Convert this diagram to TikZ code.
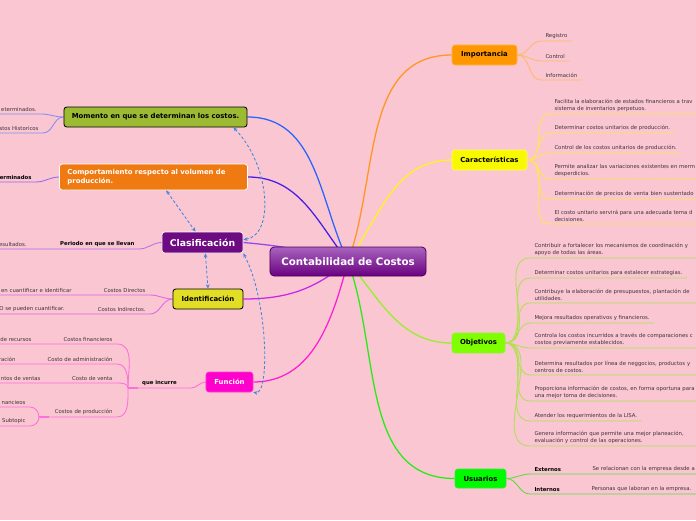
\documentclass[tikz,border=0pt]{standalone}
\usepackage{fontspec}
\setmainfont{DejaVu Sans}
\usetikzlibrary{arrows.meta, backgrounds}
\definecolor{bgpink}{RGB}{249,198,210}
\definecolor{leafgray}{RGB}{62,50,56}
\definecolor{relblue}{RGB}{66,133,222}
\definecolor{ccTop}{RGB}{168,100,190}
\definecolor{ccBot}{RGB}{106,0,128}
\definecolor{ccLine}{RGB}{80,0,95}
% branch colours
\definecolor{brMom}{RGB}{40,100,255}
\definecolor{brComp}{RGB}{70,30,230}
\definecolor{brClas}{RGB}{150,70,240}
\definecolor{brIden}{RGB}{200,40,230}
\definecolor{brFunc}{RGB}{255,30,210}
\definecolor{brImp}{RGB}{255,150,30}
\definecolor{brCar}{RGB}{255,245,30}
\definecolor{brObj}{RGB}{150,240,40}
\definecolor{brUsr}{RGB}{40,235,20}
% subtopic line colours
\definecolor{lfM}{RGB}{130,140,240}
\definecolor{lfC}{RGB}{150,100,240}
\definecolor{lfK}{RGB}{180,110,240}
\definecolor{lfI}{RGB}{225,100,230}
\definecolor{lfF}{RGB}{255,110,220}
\definecolor{lfO}{RGB}{255,185,100}
\definecolor{lfY}{RGB}{255,230,80}
\definecolor{lfG}{RGB}{175,225,80}
\definecolor{lfU}{RGB}{90,220,60}

\begin{document}
\begin{tikzpicture}[
  x=0.025cm, y=-0.025cm,
  topic/.style={rounded corners=2pt, font=\fontsize{4.9}{5.9}\selectfont\bfseries, inner sep=0pt},
  leaf/.style={font=\fontsize{3.8}{4.8}\selectfont, text=leafgray, inner xsep=3pt, inner ysep=1.5pt, align=left},
  rleaf/.style={leaf, anchor=south west},
  lleaf/.style={leaf, anchor=south east},
  branch/.style={line width=0.9pt},
  twig/.style={line width=0.6pt},
  rel/.style={{Stealth[length=3pt,width=2.6pt]}-{Stealth[length=3pt,width=2.6pt]}, relblue, line width=0.6pt, dash pattern=on 2pt off 1.5pt}
]
\useasboundingbox (0,0) rectangle (696,520);

% Central topic
\node[topic, font=\fontsize{7.3}{8.5}\selectfont\bfseries, text=white, top color=ccTop, bottom color=ccBot,
  draw=ccLine, line width=0.6pt, rounded corners=3pt, minimum width=3.9cm, minimum height=0.725cm] (cc) at (348,261.5) {Contabilidad de Costos};

% Topics, right side
\node[topic, fill={rgb,255:red,255;green,152;blue,0}, draw={rgb,255:red,255;green,185;blue,70}, minimum width=1.625cm, minimum height=0.5cm] (imp) at (484.5,55) {Importancia};
\node[topic, fill={rgb,255:red,248;green,248;blue,0}, draw={rgb,255:red,255;green,255;blue,90}, minimum width=1.875cm, minimum height=0.5cm] (car) at (489.5,160) {Características};
\node[topic, fill={rgb,255:red,128;green,255;blue,0}, draw={rgb,255:red,150;green,240;blue,60}, minimum width=1.325cm, minimum height=0.5cm] (obj) at (478.5,343) {Objetivos};
\node[topic, fill={rgb,255:red,0;green,250;blue,0}, draw={rgb,255:red,60;green,230;blue,60}, minimum width=1.275cm, minimum height=0.475cm] (usr) at (480.5,478.5) {Usuarios};

% Topics, left side
\node[topic, fill={rgb,255:red,156;green,187;blue,51}, draw=black, line width=0.6pt, minimum width=4.575cm, minimum height=0.5cm] (mom) at (155.5,117) {Momento en que se determinan los costos.};
\node[topic, fill={rgb,255:red,240;green,122;blue,18}, draw=white, line width=0.5pt, text=white, align=left,
  text width=4.3cm, inner xsep=0.2cm, minimum height=0.65cm] (comp) at (153.5,177) {Comportamiento respecto al volumen de\\producción.};
\node[topic, font=\fontsize{6.6}{7.6}\selectfont\bfseries, fill={rgb,255:red,110;green,10;blue,130}, draw=white, line width=0.5pt,
  text=white, minimum width=2.025cm, minimum height=0.525cm] (clas) at (202.5,242.5) {Clasificación};
\node[topic, fill={rgb,255:red,226;green,222;blue,38}, draw=black, line width=0.6pt, minimum width=1.75cm, minimum height=0.5cm] (iden) at (208,299) {Identificación};
\node[topic, fill={rgb,255:red,255;green,0;blue,204}, draw={rgb,255:red,255;green,60;blue,215}, text=white, minimum width=1.175cm, minimum height=0.5cm] (func) at (229.5,382) {Función};

% Subtopics of Importancia
\node[rleaf] (imp1) at (541,41) {Registro};
\node[rleaf] (imp2) at (541,61) {Control};
\node[rleaf] (imp3) at (541,80) {Información};

% Subtopics of Caracteristicas
\node[rleaf, text width=4cm] (car1) at (550,114) {Facilita la elaboración de estados financieros a trav\\sistema de inventarios perpetuos.};
\node[rleaf] (car2) at (550,133) {Determinar costos unitarios de producción.};
\node[rleaf] (car3) at (550,153) {Control de los costos unitarios de producción.};
\node[rleaf, text width=4cm] (car4) at (550,179) {Permite analizar las variaciones existentes en merm\\desperdicios.};
\node[rleaf, text width=4cm] (car5) at (550,199) {Determinación de precios de venta bien sustentado};
\node[rleaf, text width=4cm] (car6) at (550,224) {El costo unitario servirá para una adecuada tema d\\decisiones.};

% Subtopics of Objetivos
\node[rleaf, text width=4.5cm] (obj1) at (530,258) {Contribuir a fortalecer los mecanismos de coordinación y\\apoyo de todas las áreas.};
\node[rleaf] (obj2) at (530,278) {Determinar costos unitarios para estalecer estrategias.};
\node[rleaf, text width=4.5cm] (obj3) at (530,303) {Contribuye la elaboración de presupuestos, plantación de\\utilidades.};
\node[rleaf] (obj4) at (530,323) {Mejora resultados operativos y financieros.};
\node[rleaf, text width=4.5cm] (obj5) at (530,348) {Controla los costos incurridos a través de comparaciones c\\costos previamente establecidos.};
\node[rleaf, text width=4.5cm] (obj6) at (530,375) {Determina resultados por línea de neggocios, productos y\\centros de costos.};
\node[rleaf, text width=4.5cm] (obj7) at (530,401) {Proporciona información de costos, en forma oportuna para\\una mejor toma de decisiones.};
\node[rleaf] (obj8) at (530,421) {Atender los requerimientos de la LISA.};
\node[rleaf, text width=4.5cm] (obj9) at (530,446) {Genera información que permite una mejor planeación,\\evaluación y control de las operaciones.};

% Subtopics of Usuarios
\node[rleaf, font=\fontsize{3.8}{4.8}\selectfont\bfseries, text=black] (usr1) at (530,474) {Externos};
\node[rleaf, text width=3cm] (usr1a) at (588,474) {Se relacionan con la empresa desde a};
\node[rleaf, font=\fontsize{3.8}{4.8}\selectfont\bfseries, text=black] (usr2) at (530,494) {Internos};
\node[rleaf, text width=3cm] (usr2a) at (587,494) {Personas que laboran en la empresa.};

% Subtopics of Momento
\node[lleaf] (mom1) at (41,114) {eterminados.};
\node[lleaf] (mom2) at (43,133) {stos Historicos};

% Subtopic of Comportamiento
\node[lleaf, font=\fontsize{3.8}{4.8}\selectfont\bfseries, text=black] (comp1) at (36,182) {erminados};

% Subtopic of Clasificacion
\node[lleaf, font=\fontsize{3.8}{4.8}\selectfont\bfseries, text=black] (clas1) at (139,249) {Periodo en que se llevan};
\node[lleaf] (clas1a) at (31,249) {esultados.};

% Subtopics of Identificacion
\node[lleaf] (iden1) at (150,295) {Costos Directos};
\node[lleaf] (iden1a) at (76,295) {en cuantificar e identificar};
\node[lleaf] (iden2) at (150,314) {Costos Indirectos.};
\node[lleaf] (iden2a) at (69,314) {O se pueden cuantificar.};

% Subtopics of Funcion
\node[rleaf, font=\fontsize{3.8}{4.8}\selectfont\bfseries, text=black, text width=1.35cm, align=center] (fun1) at (128,388) {que incurre};
\node[lleaf] (fun2) at (117,344) {Costos financieros};
\node[lleaf] (fun2a) at (36,344) {de recursos};
\node[lleaf] (fun3) at (117,364) {Costo de administración};
\node[lleaf] (fun3a) at (20,364) {ración};
\node[lleaf] (fun4) at (117,383) {Costo de venta};
\node[lleaf] (fun4a) at (45,383) {ntos de ventas};
\node[lleaf, text width=1.725cm, align=right] (fun5) at (117,417) {Costos de producción};
\node[lleaf] (fun5a) at (30,407) {nancieos};
\node[lleaf] (fun5b) at (30,426) {Subtopic};

\begin{scope}[on background layer]
\fill[bgpink] (0,0) rectangle (696,520);

% Central topic -> topics
\draw[branch, brMom] (cc.center) to[out=115, in=0] (mom.east);
\draw[branch, brComp] (cc.center) to[out=128, in=0] (comp.east);
\draw[branch, brClas] (clas.east) to[out=-5, in=165] (cc.center);
\draw[branch, brIden] (cc.center) to[out=-140, in=0] (iden.east);
\draw[branch, brFunc] (cc.center) to[out=-105, in=0] (func.east);
\draw[branch, brImp] (cc.center) to[out=70, in=180] (imp.west);
\draw[branch, brCar] (cc.center) to[out=55, in=180] (car.west);
\draw[branch, brObj] (cc.center) to[out=-50, in=180] (obj.west);
\draw[branch, brUsr] (cc.center) to[out=-70, in=180] (usr.west);

% Importancia
\draw[twig, lfO] (imp.east) to[out=0, in=180] (imp1.south west) -- (imp1.south east);
\draw[twig, lfO] (imp.east) to[out=0, in=180] (imp2.south west) -- (imp2.south east);
\draw[twig, lfO] (imp.east) to[out=0, in=180] (imp3.south west) -- (imp3.south east);

% Caracteristicas
\draw[twig, lfY] (car.east) to[out=0, in=180] (car1.south west) -- (car1.south east);
\draw[twig, lfY] (car.east) to[out=0, in=180] (car2.south west) -- (car2.south east);
\draw[twig, lfY] (car.east) to[out=0, in=180] (car3.south west) -- (car3.south east);
\draw[twig, lfY] (car.east) to[out=0, in=180] (car4.south west) -- (car4.south east);
\draw[twig, lfY] (car.east) to[out=0, in=180] (car5.south west) -- (car5.south east);
\draw[twig, lfY] (car.east) to[out=0, in=180] (car6.south west) -- (car6.south east);

% Objetivos
\draw[twig, lfG] (obj.east) to[out=0, in=180] (obj1.south west) -- (obj1.south east);
\draw[twig, lfG] (obj.east) to[out=0, in=180] (obj2.south west) -- (obj2.south east);
\draw[twig, lfG] (obj.east) to[out=0, in=180] (obj3.south west) -- (obj3.south east);
\draw[twig, lfG] (obj.east) to[out=0, in=180] (obj4.south west) -- (obj4.south east);
\draw[twig, lfG] (obj.east) to[out=0, in=180] (obj5.south west) -- (obj5.south east);
\draw[twig, lfG] (obj.east) to[out=0, in=180] (obj6.south west) -- (obj6.south east);
\draw[twig, lfG] (obj.east) to[out=0, in=180] (obj7.south west) -- (obj7.south east);
\draw[twig, lfG] (obj.east) to[out=0, in=180] (obj8.south west) -- (obj8.south east);
\draw[twig, lfG] (obj.east) to[out=0, in=180] (obj9.south west) -- (obj9.south east);

% Usuarios
\draw[twig, lfU] (usr.east) to[out=0, in=180] (usr1.south west) -- (usr1.south east) -- (usr1a.south west) -- (usr1a.south east);
\draw[twig, lfU] (usr.east) to[out=0, in=180] (usr2.south west) -- (usr2.south east) -- (usr2a.south west) -- (usr2a.south east);

% Momento
\draw[twig, lfM] (mom.west) to[out=180, in=0] (mom1.south east) -- (mom1.south west);
\draw[twig, lfM] (mom.west) to[out=180, in=0] (mom2.south east) -- (mom2.south west);

% Comportamiento
\draw[twig, lfC] (comp.west) to[out=180, in=0] (comp1.south east) -- (comp1.south west);

% Clasificacion
\draw[twig, lfK] (clas.west) to[out=180, in=0] (clas1.south east) -- (clas1.south west) -- (clas1a.south east) -- (clas1a.south west);

% Identificacion
\draw[twig, lfI] (iden.west) to[out=180, in=0] (iden1.south east) -- (iden1.south west) -- (iden1a.south east) -- (iden1a.south west);
\draw[twig, lfI] (iden.west) to[out=180, in=0] (iden2.south east) -- (iden2.south west) -- (iden2a.south east) -- (iden2a.south west);

% Funcion
\draw[twig, lfF] (func.west) to[out=180, in=0] (fun1.south east) -- (fun1.south west);
\draw[lfF, line width=1.4pt] (fun1.south west) -- ([xshift=7pt]fun1.south west);
\draw[twig, lfF] (fun1.south west) to[out=90, in=0] (fun2.south east) -- (fun2.south west) -- (fun2a.south east) -- (fun2a.south west);
\draw[twig, lfF] (fun1.south west) to[out=90, in=0] (fun3.south east) -- (fun3.south west) -- (fun3a.south east) -- (fun3a.south west);
\draw[twig, lfF] (fun1.south west) to[out=90, in=0] (fun4.south east) -- (fun4.south west) -- (fun4a.south east) -- (fun4a.south west);
\draw[twig, lfF] (fun1.south west) to[out=-90, in=0] (fun5.south east) -- (fun5.south west);
\draw[lfF, line width=1.4pt] (fun5.south west) -- ([xshift=7pt]fun5.south west);
\draw[twig, lfF] (fun5.south west) to[out=90, in=0] (fun5a.south east) -- (fun5a.south west);
\draw[twig, lfF] (fun5.south west) to[out=-90, in=0] (fun5b.south east) -- (fun5b.south west);
\end{scope}

% Relationships
\draw[rel] ([xshift=-10pt]mom.south east) .. controls (270,165) and (275,235) .. ([yshift=2pt]clas.east);
\draw[rel] ([xshift=9pt]comp.south) -- ([xshift=-5pt]clas.north);
\draw[rel] ([xshift=2pt]clas.south) -- (iden.north);
\draw[rel] (clas.south east) .. controls (268,300) and (270,395) .. (func.south east);

\end{tikzpicture}
\end{document}
